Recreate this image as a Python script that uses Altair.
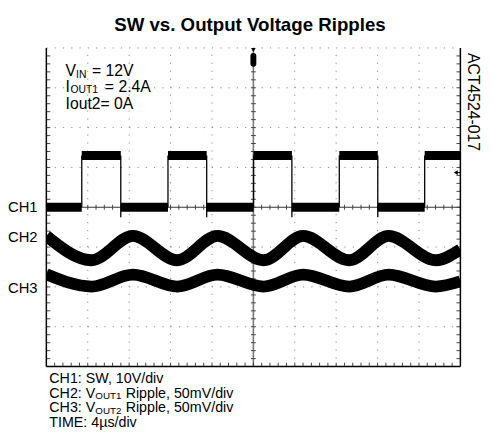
import altair as alt
import pandas as pd
import numpy as np

# ---------------- data ----------------
# time axis in microseconds (4 us/div, 10 divisions), vertical in divisions (-4..4)
ch1_rise_us = [3.42, 11.75, 20.02, 28.3, 36.55]
ch1_fall_us = [7.19, 15.49, 23.72, 32.02]
ch1_low = 0.0
ch1_high = 1.3
ch1_undershoot = -0.25

# ripple extremes (peaks / troughs) of CH2 and CH3
ch2_t = [0.0, 4.37, 8.36, 12.64, 16.53, 21.0, 24.8, 29.26, 33.06, 37.62, 40.0]
ch2_v = [-0.72, -1.33, -0.72, -1.33, -0.72, -1.33, -0.72, -1.33, -0.72, -1.33, -1.06]

ch3_t = ch2_t
ch3_v = [-1.68, -1.99, -1.69, -1.99, -1.69, -1.99, -1.69, -1.99, -1.69, -1.99, -1.86]

channel_labels = ["CH1", "CH2", "CH3"]
chip_id = "ACT4524-017"
title_text = "SW vs. Output Voltage Ripples"

FONT = "Liberation Sans"
W, H = 421, 324
XD = [0, 40]
YD = [-4, 4]

xs = alt.Scale(domain=XD, nice=False, zero=False)
ys = alt.Scale(domain=YD, nice=False, zero=False)


def X(f="x"):
    return alt.X(f"{f}:Q", scale=xs, axis=None)


def Y(f="y"):
    return alt.Y(f"{f}:Q", scale=ys, axis=None)


def hrule(df, **mk):
    return alt.Chart(pd.DataFrame(df)).mark_rule(**mk).encode(x=X("x"), x2="x2:Q", y=Y("y"))


def vrule(df, **mk):
    return alt.Chart(pd.DataFrame(df)).mark_rule(**mk).encode(x=X("x"), y=Y("y"), y2="y2:Q")


# ---------------- tables ----------------
edges = sorted([(t, "rise") for t in ch1_rise_us] + [(t, "fall") for t in ch1_fall_us])
plateaus = []
start, level = 0.0, ch1_low
for t, kind in edges:
    plateaus.append({"x": start, "x2": t, "y": level})
    start = t
    level = ch1_high if kind == "rise" else ch1_low
plateaus.append({"x": start, "x2": XD[1], "y": level})

edge_rows = ([{"x": t, "y": ch1_low, "y2": ch1_high} for t in ch1_rise_us]
             + [{"x": t, "y": ch1_undershoot, "y2": ch1_high} for t in ch1_fall_us])

ch2_df = pd.DataFrame({"t": ch2_t, "v": ch2_v})
ch3_df = pd.DataFrame({"t": ch3_t, "v": ch3_v})

minor_x = np.round(np.arange(0, 40.001, 0.8), 3)
minor_y = np.round(np.arange(-4, 4.001, 0.2), 3)
inner_y = [float(v) for v in minor_y if -4 < v < 4]
inner_x = [float(v) for v in minor_x if 0 < v < 40]

px_x = 4 / 42.1  # us per pixel
px_y = 1 / 40.5  # div per pixel

ticks_h = ([{"x": 20 - 2.5 * px_x, "x2": 20 + 2.5 * px_x, "y": v} for v in inner_y]
           + [{"x": 0.0, "x2": 4 * px_x, "y": v} for v in inner_y]
           + [{"x": 40 - 4 * px_x, "x2": 40.0, "y": v} for v in inner_y])
ticks_v = ([{"x": v, "y": -2.5 * px_y, "y2": 2.5 * px_y} for v in inner_x]
           + [{"x": v, "y": -4.0, "y2": -4 + 4 * px_y} for v in inner_x])

grid_v = vrule([{"x": v, "y": -4.0, "y2": 4.0} for v in [4, 8, 12, 16, 24, 28, 32, 36]],
               color="#8a8a8a", strokeWidth=1, strokeDash=[1.2, 6.9])
grid_h = hrule([{"x": 0.0, "x2": 40.0, "y": v} for v in [-3, -2, -1, 1, 2, 3, 4]],
               color="#8a8a8a", strokeWidth=1, strokeDash=[1.2, 7.22])

center_v = vrule([{"x": 20.0, "y": -4.0, "y2": 4.0}], color="#777777", strokeWidth=1.6)
center_h = hrule([{"x": 0.0, "x2": 40.0, "y": 0.0}], color="#333333", strokeWidth=1)

tick_h = hrule(ticks_h, color="#444444", strokeWidth=1)
tick_v = vrule(ticks_v, color="#444444", strokeWidth=1)

border_l = vrule([{"x": 0.0, "y": -4.0, "y2": 4.0}], color="black", strokeWidth=1.5)
border_r = vrule([{"x": 40.0, "y": -4.0, "y2": 4.0}], color="black", strokeWidth=1.5)
border_b = hrule([{"x": 0.0, "x2": 40.0, "y": -4.0}], color="black", strokeWidth=1.5)

ch1_band = hrule(plateaus, color="black", strokeWidth=9, strokeCap="butt")
ch1_edge = vrule(edge_rows, color="black", strokeWidth=1.3)

ch2_line = alt.Chart(ch2_df).mark_line(color="black", strokeWidth=12, interpolate="monotone",
                                       strokeCap="butt", clip=True).encode(x=X("t"), y=Y("v"))
ch3_line = alt.Chart(ch3_df).mark_line(color="black", strokeWidth=12, interpolate="monotone",
                                       strokeCap="butt", clip=True).encode(x=X("t"), y=Y("v"))

trig_tri = alt.Chart(pd.DataFrame({"x": [20.0], "y": [3.95]})).mark_point(
    shape="triangle-down", filled=True, color="black", size=22, opacity=1).encode(x=X(), y=Y())
trig_box = vrule([{"x": 20.0, "y": 3.6, "y2": 3.8}], color="black", strokeWidth=6, strokeCap="round")
lvl_tri = alt.Chart(pd.DataFrame({"x": [39.55], "y": [0.87]})).mark_point(
    shape="triangle-left", filled=True, color="black", size=22, opacity=1).encode(x=X(), y=Y())
lvl_line = hrule([{"x": 39.55, "x2": 40.0, "y": 0.87}], color="black", strokeWidth=1)

one = pd.DataFrame({"d": [0]})


def txt(text, x, y, size=16, align="left", bold=False, angle=0, baseline="middle"):
    kw = dict(text=text, font=FONT, fontSize=size, align=align, baseline=baseline, color="black")
    if bold:
        kw["fontWeight"] = "bold"
    if angle:
        kw["angle"] = angle
    return alt.Chart(one).mark_text(**kw).encode(x=alt.value(x), y=alt.value(y))


FS = 14.5      # footer font size
SUB = 10       # subscript size
fy = [336.5, 351.5, 366.5, 381.5]
vw = 3223 * FS / 1000  # width of "CH2: V"
sw = 2667 * SUB / 1000  # width of "OUT1"
texts = [
    txt(title_text, 207, -17, size=19, align="center", bold=True, baseline="alphabetic"),
    # inside annotations
    txt("V", 19.5, 24), txt("IN", 30.2, 27.5, size=10.5), txt("= 12V", 46.3, 24),
    txt("I", 19.5, 40), txt("OUT1", 24.6, 43.2, size=10.5), txt("= 2.4A", 59.5, 40),
    txt("Iout2= 0A", 19.5, 57),
    # channel labels
    txt(channel_labels[0], -9, 162, size=15, align="right"),
    txt(channel_labels[1], -9, 192, size=15, align="right"),
    txt(channel_labels[2], -9, 244, size=15, align="right"),
    # chip id
    txt(chip_id, 434, 55, size=16, align="center", angle=90),
    # footer
    txt("CH1: SW, 10V/div", 3, fy[0], size=FS),
    txt("CH2: V", 3, fy[1], size=FS), txt("OUT1", 3 + vw, fy[1] + 2.5, size=SUB),
    txt("Ripple, 50mV/div", 3 + vw + sw + 4.2, fy[1], size=FS),
    txt("CH3: V", 3, fy[2], size=FS), txt("OUT2", 3 + vw, fy[2] + 2.5, size=SUB),
    txt("Ripple, 50mV/div", 3 + vw + sw + 4.2, fy[2], size=FS),
    txt("TIME: 4\u00b5s/div", 3, fy[3], size=FS),
]

chart = alt.layer(
    grid_v, grid_h, center_v, center_h, tick_h, tick_v,
    border_l, border_r, border_b,
    ch2_line, ch3_line, ch1_band, ch1_edge,
    trig_tri, trig_box, lvl_line, lvl_tri,
    *texts,
).properties(
    width=W, height=H,
    padding={"left": 39, "top": 37, "right": 24, "bottom": 69},
    autosize=alt.AutoSizeParams(type="none"),
    background="white",
).configure_view(stroke=None)

chart.save("out.html", embed_options={"renderer": "svg", "actions": False})
